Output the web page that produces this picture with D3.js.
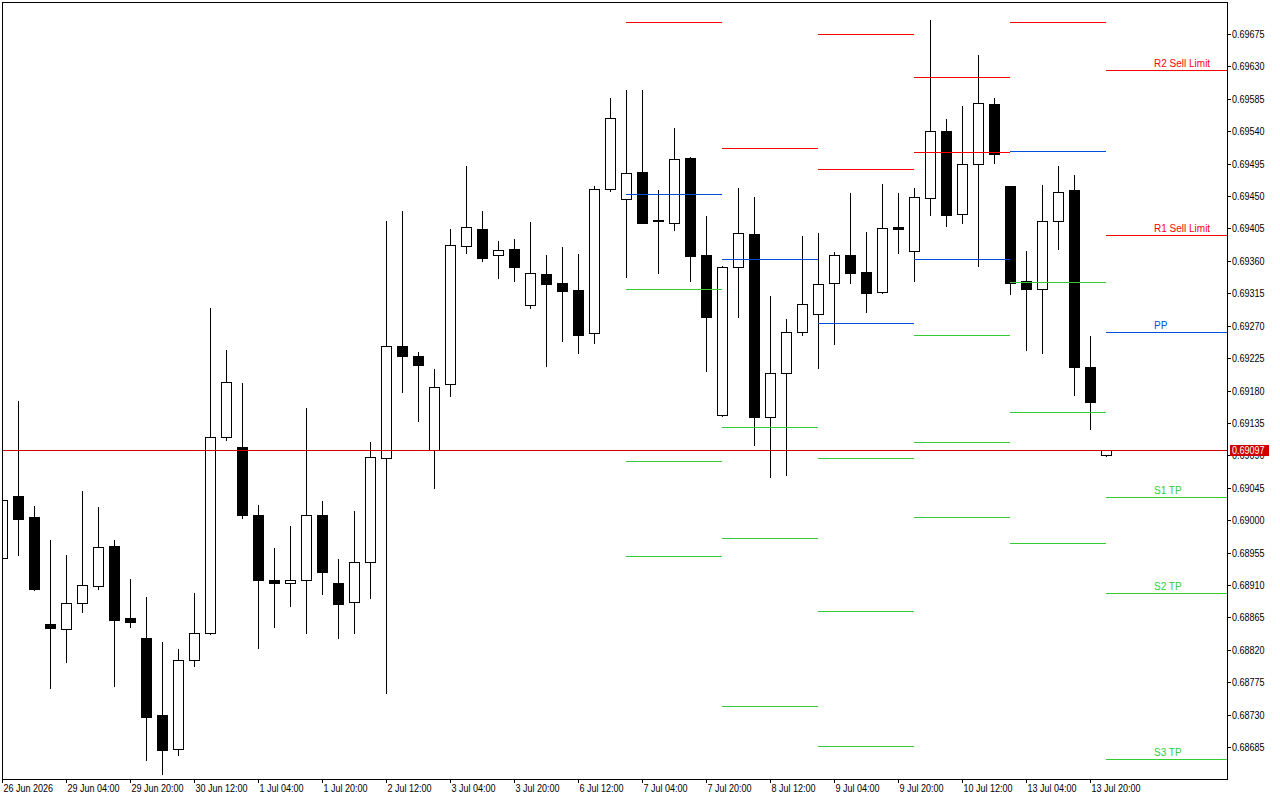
<!DOCTYPE html>
<html>
<head>
<meta charset="utf-8">
<script src="https://cdn.jsdelivr.net/npm/d3@7/dist/d3.min.js"></script>
<style>
  html, body { margin: 0; padding: 0; background: #fff; }
  svg { display: block; }
  .axis text { font-family: "Liberation Sans", Arial, sans-serif; font-size: 11px; fill: #000; }
  .axis line { stroke: #000; }
  .pv-label { font-family: "Liberation Sans", Arial, sans-serif; font-size: 10px; }
</style>
</head>
<body>
<svg id="chart" width="1280" height="800"></svg>
<script>
'use strict';

/* ── Data: H4 candles ── */
const timeLabels = ['26 Jun 2026', '29 Jun 04:00', '29 Jun 20:00', '30 Jun 12:00', '1 Jul 04:00',
  '1 Jul 20:00', '2 Jul 12:00', '3 Jul 04:00', '3 Jul 20:00', '6 Jul 12:00', '7 Jul 04:00',
  '7 Jul 20:00', '8 Jul 12:00', '9 Jul 04:00', '9 Jul 20:00', '10 Jul 12:00', '13 Jul 04:00',
  '13 Jul 20:00'];

const open = [0.68947, 0.69034, 0.69004, 0.68856, 0.68849, 0.68885, 0.68909, 0.68964, 0.68864, 0.68836,
  0.68729, 0.68682, 0.68806, 0.68843, 0.69115, 0.69102, 0.69007, 0.68917, 0.68913, 0.68917,
  0.69007, 0.68913, 0.68886, 0.68942, 0.69086, 0.69242, 0.69228, 0.69097, 0.69189, 0.69381,
  0.69404, 0.69368, 0.69376, 0.69299, 0.69342, 0.69329, 0.69320, 0.69260, 0.69460, 0.69446,
  0.69483, 0.69417, 0.69413, 0.69503, 0.69368, 0.69146, 0.69351, 0.69397, 0.69143, 0.69204,
  0.69261, 0.69286, 0.69329, 0.69368, 0.69345, 0.69317, 0.69407, 0.69374, 0.69447, 0.69540,
  0.69425, 0.69495, 0.69578, 0.69464, 0.69332, 0.69321, 0.69415, 0.69458, 0.69213, 0.69090];
const high = [0.69031, 0.69165, 0.69020, 0.68972, 0.68952, 0.69040, 0.69018, 0.68972, 0.68918, 0.68893,
  0.68831, 0.68821, 0.68899, 0.69295, 0.69236, 0.69190, 0.69021, 0.68961, 0.68992, 0.69156,
  0.69027, 0.68946, 0.69013, 0.69108, 0.69415, 0.69429, 0.69233, 0.69210, 0.69404, 0.69492,
  0.69429, 0.69388, 0.69390, 0.69414, 0.69368, 0.69379, 0.69370, 0.69464, 0.69586, 0.69597,
  0.69597, 0.69458, 0.69544, 0.69504, 0.69422, 0.69353, 0.69461, 0.69449, 0.69311, 0.69279,
  0.69395, 0.69399, 0.69372, 0.69454, 0.69400, 0.69467, 0.69454, 0.69461, 0.69694, 0.69557,
  0.69575, 0.69646, 0.69586, 0.69464, 0.69374, 0.69465, 0.69492, 0.69479, 0.69256, 0.69097];
const low = [0.68943, 0.68952, 0.68903, 0.68767, 0.68803, 0.68872, 0.68904, 0.68770, 0.68852, 0.68667,
  0.68648, 0.68674, 0.68797, 0.68842, 0.69111, 0.69003, 0.68822, 0.68852, 0.68881, 0.68843,
  0.68897, 0.68836, 0.68843, 0.68892, 0.68760, 0.69178, 0.69138, 0.69045, 0.69172, 0.69371,
  0.69360, 0.69336, 0.69332, 0.69295, 0.69214, 0.69249, 0.69232, 0.69246, 0.69457, 0.69338,
  0.69412, 0.69343, 0.69403, 0.69332, 0.69207, 0.69145, 0.69282, 0.69104, 0.69060, 0.69063,
  0.69257, 0.69211, 0.69245, 0.69329, 0.69289, 0.69315, 0.69371, 0.69332, 0.69424, 0.69408,
  0.69413, 0.69353, 0.69496, 0.69314, 0.69236, 0.69232, 0.69376, 0.69174, 0.69127, 0.69089];
const close = [0.69028, 0.69002, 0.68904, 0.68850, 0.68885, 0.68910, 0.68963, 0.68861, 0.68859, 0.68727,
  0.68681, 0.68806, 0.68843, 0.69115, 0.69192, 0.69007, 0.68917, 0.68913, 0.68917, 0.69007,
  0.68928, 0.68884, 0.68942, 0.69088, 0.69242, 0.69228, 0.69215, 0.69185, 0.69382, 0.69407,
  0.69364, 0.69375, 0.69351, 0.69343, 0.69328, 0.69318, 0.69257, 0.69460, 0.69558, 0.69482,
  0.69413, 0.69415, 0.69501, 0.69367, 0.69282, 0.69351, 0.69399, 0.69143, 0.69204, 0.69261,
  0.69300, 0.69328, 0.69368, 0.69343, 0.69315, 0.69406, 0.69404, 0.69449, 0.69540, 0.69424,
  0.69495, 0.69579, 0.69508, 0.69329, 0.69321, 0.69415, 0.69456, 0.69213, 0.69164, 0.69097];

const bidPrice = 0.69097;

const priceTicks = [0.68685, 0.68730, 0.68775, 0.68820, 0.68865, 0.68910, 0.68955, 0.69000,
  0.69045, 0.69090, 0.69135, 0.69180, 0.69225, 0.69270, 0.69315, 0.69360, 0.69405, 0.69450,
  0.69495, 0.69540, 0.69585, 0.69630, 0.69675];

/* ── Data: daily pivot levels (null = off chart) ── */
const pivotDays = ['7 Jul', '8 Jul', '9 Jul', '10 Jul', '13 Jul', '14 Jul'];
const pivotStartBar = [39, 45, 51, 57, 63, 69];
const pivotR2 = [null, null, 0.69675, 0.69615, null, 0.69625];
const pivotR1 = [0.69692, 0.69517, 0.69488, 0.69511, 0.69692, 0.69396];
const pivotPP = [0.69453, 0.69363, 0.69274, 0.69363, 0.69513, 0.69261];
const pivotS1 = [0.69321, 0.69129, 0.69086, 0.69257, 0.69331, 0.69032];
const pivotS2 = [0.69082, 0.68975, 0.68874, 0.69109, 0.69150, 0.68899];
const pivotS3 = [0.68950, 0.68742, 0.68686, 0.69004, 0.68968, 0.68668];

/* ── Layout ── */
const plot = { left: 2, top: 2, right: 1227, bottom: 779 };
const BAR = 16;          // px per H4 bar
const BARS_PER_DAY = 6;
const NARROW = 0.82;     // squeeze axis text to a narrow face
const RED = '#ff0000', BLUE = '#0050dc', GREEN = '#33cc33', BID = '#cc0000';

const svg = d3.select('#chart');

const x = d3.scaleLinear().domain([0, 1]).range([plot.left, plot.left + BAR]);
const y = d3.scaleLinear()
  .domain([priceTicks[0], priceTicks[priceTicks.length - 1]])
  .range([747, 34])
  .interpolate(d3.interpolateRound);

const narrow = (sel, x0) => sel.attr('x', x0 / NARROW).attr('transform', `scale(${NARROW},1)`);

svg.append('clipPath').attr('id', 'plot-clip')
  .append('rect')
  .attr('x', plot.left).attr('y', plot.top)
  .attr('width', plot.right - plot.left).attr('height', plot.bottom - plot.top);

/* ── Candles ── */
const candles = open.map((o, i) => ({ i, o, h: high[i], l: low[i], c: close[i] }));
const cg = svg.append('g').attr('clip-path', 'url(#plot-clip)').attr('shape-rendering', 'crispEdges');

cg.selectAll('line.wick').data(candles).join('line')
  .attr('class', 'wick')
  .attr('x1', d => x(d.i) + 0.5).attr('x2', d => x(d.i) + 0.5)
  .attr('y1', d => y(d.h)).attr('y2', d => y(d.l) + 1)
  .attr('stroke', '#000');

cg.selectAll('rect.body').data(candles).join('rect')
  .attr('class', 'body')
  .each(function (d) {
    const bull = d.c >= d.o;
    const top = y(Math.max(d.o, d.c));
    const bot = y(Math.min(d.o, d.c));
    const r = d3.select(this);
    if (bull) {
      r.attr('x', x(d.i) - 4.5).attr('y', top + 0.5)
        .attr('width', 10).attr('height', Math.max(bot - top, 1))
        .attr('fill', '#fff').attr('stroke', '#000');
    } else {
      r.attr('x', x(d.i) - 5).attr('y', top)
        .attr('width', 11).attr('height', bot - top + 1)
        .attr('fill', '#000');
    }
  });

/* ── Pivot segments ── */
const levels = [
  { vals: pivotR2, color: RED, label: 'R2 Sell Limit' },
  { vals: pivotR1, color: RED, label: 'R1 Sell Limit' },
  { vals: pivotPP, color: BLUE, label: 'PP' },
  { vals: pivotS1, color: GREEN, label: 'S1 TP' },
  { vals: pivotS2, color: GREEN, label: 'S2 TP' },
  { vals: pivotS3, color: GREEN, label: 'S3 TP' },
];
const last = pivotDays.length - 1;
const segs = [];
levels.forEach(lv => lv.vals.forEach((v, j) => {
  if (v == null) return;
  segs.push({
    v, color: lv.color,
    x1: x(pivotStartBar[j]),
    x2: j === last ? plot.right : x(pivotStartBar[j] + BARS_PER_DAY),
  });
}));

const pg = svg.append('g').attr('clip-path', 'url(#plot-clip)').attr('shape-rendering', 'crispEdges');
pg.selectAll('line').data(segs).join('line')
  .attr('x1', d => d.x1).attr('x2', d => d.x2)
  .attr('y1', d => y(d.v) + 0.5).attr('y2', d => y(d.v) + 0.5)
  .attr('stroke', d => d.color);

svg.append('g').selectAll('text').data(levels).join('text')
  .attr('class', 'pv-label')
  .attr('x', x(pivotStartBar[last]) + 48)
  .attr('y', d => y(d.vals[last]) - 3)
  .attr('fill', d => d.color)
  .text(d => d.label);

/* ── Bid line ── */
svg.append('line')
  .attr('shape-rendering', 'crispEdges')
  .attr('x1', plot.left).attr('x2', plot.right)
  .attr('y1', y(bidPrice) + 0.5).attr('y2', y(bidPrice) + 0.5)
  .attr('stroke', BID);

/* ── Axes ── */
const yAxis = d3.axisRight(y)
  .tickValues(priceTicks)
  .tickFormat(d3.format('.5f'))
  .tickSize(4).tickSizeOuter(0).tickPadding(2);
svg.append('g').attr('class', 'axis')
  .attr('transform', `translate(${plot.right},0)`)
  .call(yAxis)
  .call(g => g.select('.domain').remove())
  .call(g => narrow(g.selectAll('text'), 5));

const xAxis = d3.axisBottom(x)
  .tickValues(d3.range(0, timeLabels.length * 4, 4))
  .tickFormat((d, i) => timeLabels[i])
  .tickSize(4).tickSizeOuter(0).tickPadding(1);
svg.append('g').attr('class', 'axis')
  .attr('transform', `translate(0,${plot.bottom})`)
  .call(xAxis)
  .call(g => g.select('.domain').remove())
  .call(g => narrow(g.selectAll('text').attr('text-anchor', 'start'), 1));

/* ── Frame ── */
svg.append('rect')
  .attr('shape-rendering', 'crispEdges')
  .attr('x', plot.left + 0.5).attr('y', plot.top + 0.5)
  .attr('width', plot.right - plot.left).attr('height', plot.bottom - plot.top)
  .attr('fill', 'none').attr('stroke', '#000');

/* ── Bid price tag ── */
const tag = svg.append('g').attr('class', 'axis')
  .attr('transform', `translate(${plot.right + 3},${y(bidPrice) - 5})`);
tag.append('rect')
  .attr('width', 39).attr('height', 11)
  .attr('fill', BID);
tag.append('text')
  .attr('y', 5.5).attr('dy', '0.35em')
  .style('fill', '#fff')
  .call(t => narrow(t, 2))
  .text(d3.format('.5f')(bidPrice));
</script>
</body>
</html>
